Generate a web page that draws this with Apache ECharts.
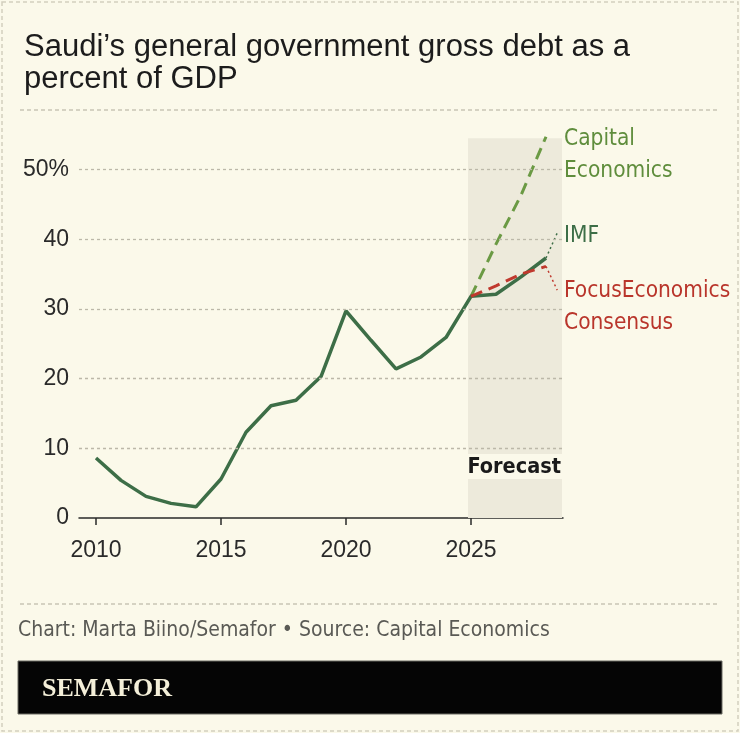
<!DOCTYPE html>
<html>
<head>
<meta charset="utf-8">
<script src="https://cdn.jsdelivr.net/npm/echarts@6/dist/echarts.min.js"></script>
<style>
  html, body { margin: 0; padding: 0; background: #fbf9ea; }
  #draw { width: 740px; height: 733px; }
</style>
</head>
<body>
<div id="draw"></div>
<script>
// data
var years = [2010, 2011, 2012, 2013, 2014, 2015, 2016, 2017, 2018, 2019, 2020, 2021, 2022, 2023, 2024, 2025, 2026, 2027, 2028];
var debtImf = [8.6, 5.4, 3.1, 2.1, 1.6, 5.6, 12.3, 16.1, 16.9, 20.3, 29.7, 25.5, 21.4, 23.1, 25.9, 31.8, 32.1, 34.6, 37.3];
var forecastYears = [2025, 2026, 2027, 2028];
var capitalEconomics = [31.8, 39.3, 46.3, 54.7];
var focusEconomics = [31.8, 33.3, 35.0, 36.1];
var imfLeader = [[2028, 37.3], [2028.45, 40.9]];
var focusLeader = [[2028, 36.1], [2028.45, 32.7]];
var xTicks = [2010, 2015, 2020, 2025];
var yTicks = [0, 10, 20, 30, 40, 50];
var forecastStart = 2024.88;

var BG = '#fbf9ea';
var narrow = "'Liberation Sans Narrow', 'DejaVu Sans Condensed', 'Liberation Sans', sans-serif";
var sans = "'Liberation Sans', Arial, sans-serif";

var pairs = function(xs, ys) {
	return xs.map(function(x, i) {
		return [x, ys[i]];
	});
};

var myChart = echarts.init(document.getElementById('draw'), null, { renderer: 'canvas' });

var option = {
	backgroundColor: BG,
	animation: false,
	title: {
		text: 'Saudi\u2019s general government gross debt as a\npercent of GDP',
		left: 19,
		top: 26,
		textStyle: {
			fontFamily: sans,
			fontSize: 31,
			fontWeight: 'normal',
			lineHeight: 32,
			color: '#1c1c1c'
		}
	},
	grid: {
		left: 79,
		right: 177,
		top: 134.65,
		bottom: 215
	},
	xAxis: {
		type: 'value',
		min: 2009.32,
		max: 2028.68,
		splitLine: { show: false },
		axisLine: { show: true, lineStyle: { color: '#2a2a2a', width: 1.5 } },
		axisTick: { show: true, customValues: xTicks, length: 7, lineStyle: { color: '#2a2a2a', width: 1.5 } },
		axisLabel: {
			customValues: xTicks,
			margin: 21,
			fontFamily: sans,
			fontSize: 23,
			color: '#2a2a2a',
			formatter: function(v) { return String(v); }
		}
	},
	yAxis: {
		type: 'value',
		min: 0,
		max: 55,
		splitLine: { show: false },
		axisLine: { show: false },
		axisTick: { show: false },
		axisLabel: {
			customValues: yTicks,
			margin: 10,
			fontFamily: sans,
			fontSize: 23,
			color: '#2a2a2a',
			formatter: function(v) { return v === 50 ? '50%' : String(v); }
		}
	},
	series: [ {
		// forecast shading
		type: 'line',
		z: 1,
		data: pairs(years, debtImf),
		showSymbol: false,
		lineStyle: { opacity: 0 },
		silent: true,
		markArea: {
			silent: true,
			itemStyle: { color: '#edeadb' },
			data: [ [ { xAxis: forecastStart, yAxis: 0 }, { xAxis: 2028.64, yAxis: 54.5 } ] ]
		}
	}, {
		// dotted grid lines
		type: 'line',
		z: 2,
		data: pairs(years, debtImf),
		showSymbol: false,
		lineStyle: { opacity: 0 },
		silent: true,
		markLine: {
			silent: true,
			symbol: 'none',
			label: { show: false },
			lineStyle: { color: '#bcb8a9', width: 1.3, type: [3, 3] },
			data: yTicks.filter(function(v) { return v > 0; }).map(function(v) {
				return { yAxis: v };
			})
		}
	}, {
		name: 'Capital Economics',
		type: 'line',
		z: 3,
		data: pairs(forecastYears, capitalEconomics),
		showSymbol: false,
		lineStyle: { color: '#6b9a44', width: 3, type: [12, 7] }
	}, {
		name: 'IMF',
		type: 'line',
		z: 4,
		data: pairs(years, debtImf),
		showSymbol: false,
		lineStyle: { color: '#3d6e47', width: 3.5 }
	}, {
		name: 'FocusEconomics Consensus',
		type: 'line',
		z: 5,
		data: pairs(forecastYears, focusEconomics),
		showSymbol: false,
		lineStyle: { color: '#c0392e', width: 3, type: [12, 7] }
	}, {
		type: 'line',
		z: 4,
		data: imfLeader,
		showSymbol: false,
		lineStyle: { color: '#3d6e47', width: 1.5, type: [2, 3] }
	}, {
		type: 'line',
		z: 4,
		data: focusLeader,
		showSymbol: false,
		lineStyle: { color: '#c0392e', width: 1.5, type: [2, 3] }
	} ],
	graphic: [ {
		type: 'rect',
		shape: { x: 2, y: 2, width: 736, height: 729 },
		style: { fill: 'none', stroke: '#d3cfbf', lineWidth: 1.5, lineDash: [4, 3] },
		silent: true
	}, {
		type: 'line',
		shape: { x1: 20, y1: 110, x2: 720, y2: 110 },
		style: { stroke: '#c9c5b5', lineWidth: 1.3, lineDash: [4, 3] }
	}, {
		type: 'line',
		shape: { x1: 20, y1: 604, x2: 720, y2: 604 },
		style: { stroke: '#c9c5b5', lineWidth: 1.3, lineDash: [4, 3] }
	}, {
		type: 'rect',
		z: 10,
		shape: { x: 467, y: 454, width: 96, height: 25 },
		style: { fill: BG }
	}, {
		type: 'text',
		z: 11,
		style: { text: 'Forecast', x: 561, y: 467, align: 'right', verticalAlign: 'middle',
			font: "bold 21.5px " + narrow, fill: '#1a1a1a' }
	}, {
		type: 'text',
		style: { text: 'Capital', x: 564, y: 139, verticalAlign: 'middle', font: "22.5px " + narrow, fill: '#5f8d3c' }
	}, {
		type: 'text',
		style: { text: 'Economics', x: 564, y: 171, verticalAlign: 'middle', font: "22.5px " + narrow, fill: '#5f8d3c' }
	}, {
		type: 'text',
		style: { text: 'IMF', x: 564, y: 236, verticalAlign: 'middle', font: "22.5px " + narrow, fill: '#3d6e47' }
	}, {
		type: 'text',
		style: { text: 'FocusEconomics', x: 564, y: 291, verticalAlign: 'middle', font: "22.5px " + narrow, fill: '#b9352b' }
	}, {
		type: 'text',
		style: { text: 'Consensus', x: 564, y: 323, verticalAlign: 'middle', font: "22.5px " + narrow, fill: '#b9352b' }
	}, {
		type: 'text',
		style: { text: 'Chart: Marta Biino/Semafor \u2022 Source: Capital Economics', x: 18, y: 631,
			verticalAlign: 'middle', font: "21px " + narrow, fill: '#5a5a55' }
	}, {
		type: 'rect',
		shape: { x: 18, y: 661, width: 704, height: 53 },
		style: { fill: '#050505', stroke: '#6a6a62', lineWidth: 1 }
	}, {
		type: 'text',
		style: { text: 'SEMAFOR', x: 42, y: 689, verticalAlign: 'middle',
			font: "bold 26px 'Liberation Serif', 'DejaVu Serif', serif", fill: '#f4efd9' }
	} ]
};

myChart.setOption(option);
</script>
</body>
</html>
